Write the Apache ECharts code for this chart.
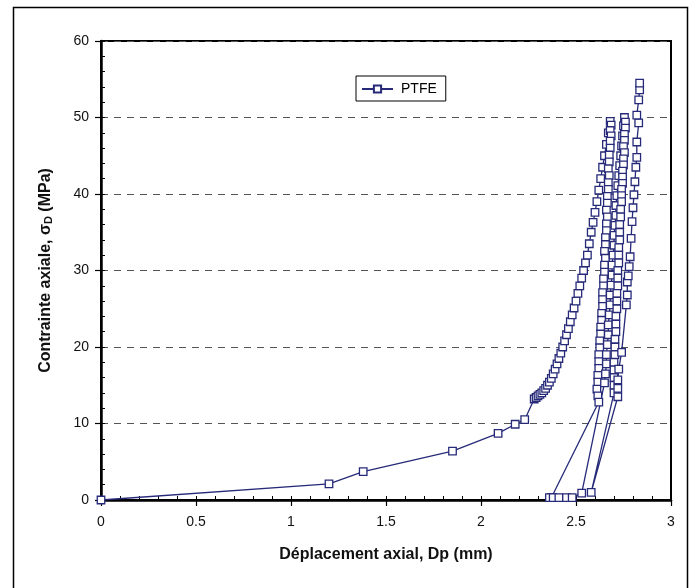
<!DOCTYPE html>
<html>
<head>
<meta charset="utf-8">
<script src="https://cdn.jsdelivr.net/npm/echarts@6/dist/echarts.min.js"></script>
<style>html,body{margin:0;padding:0;background:#fff}#c{width:696px;height:588px}</style>
</head>
<body>
<div id="c"></div>
<script>
// Axis tick labels
const xTicks = [0, 0.5, 1, 1.5, 2, 2.5, 3];
const yTicks = [0, 10, 20, 30, 40, 50, 60];
const seriesName = 'PTFE';

// Initial loading
const load1 = [[0,0],[1.20,2.1],[1.38,3.7],[1.85,6.4],[2.09,8.7],[2.18,9.9],[2.23,10.5],[2.28,13.2],[2.29,13.4],[2.30,13.6],[2.31,13.8],[2.32,14.0],[2.33,14.3],[2.34,14.6],[2.35,15.0],[2.36,15.4],[2.37,15.9],[2.38,16.5],[2.39,17.1],[2.40,17.8],[2.41,18.5],[2.42,19.2],[2.43,20.0],[2.44,20.8],[2.45,21.6],[2.46,22.4],[2.47,23.3],[2.48,24.2],[2.49,25.1],[2.50,26.0],[2.51,27.0],[2.52,28.0],[2.53,29.0],[2.54,30.0],[2.55,31.0],[2.56,32.0],[2.57,33.5],[2.58,35.0],[2.59,36.3],[2.60,37.6],[2.61,39.0],[2.62,40.5],[2.63,42.0],[2.64,43.5],[2.65,45.0],[2.66,46.5],[2.67,48.0],[2.68,49.5]];
// First unloading
const unload1 = [[2.685,49.0],[2.68,48.3],[2.685,47.6],[2.68,46.9],[2.68,46.0],[2.675,45.1],[2.675,44.2],[2.67,43.3],[2.675,42.4],[2.67,41.5],[2.67,40.6],[2.665,39.7],[2.665,38.8],[2.66,37.9],[2.665,37.0],[2.66,36.1],[2.66,35.2],[2.655,34.3],[2.655,33.4],[2.65,32.5],[2.655,31.6],[2.65,30.7],[2.65,29.8],[2.645,28.9],[2.645,28.0],[2.64,27.1],[2.64,26.2],[2.64,25.3],[2.635,24.4],[2.635,23.5],[2.63,22.6],[2.63,21.7],[2.625,20.8],[2.625,19.9],[2.62,19.0],[2.62,18.1],[2.62,17.2],[2.615,16.3],[2.615,15.4],[2.61,14.5],[2.615,13.6],[2.62,12.8],[2.37,0.3]];
// Near-zero stress
const rest1 = [[2.36,0.3],[2.38,0.3],[2.41,0.3],[2.45,0.3],[2.48,0.3],[2.53,0.9]];
// Second loading
const load2 = [[2.65,15.3],[2.655,16.5],[2.66,17.8],[2.66,19.0],[2.665,20.3],[2.67,21.6],[2.67,22.9],[2.675,24.2],[2.68,25.5],[2.68,26.8],[2.685,28.1],[2.69,29.4],[2.69,30.7],[2.695,32.0],[2.70,33.3],[2.70,34.6],[2.705,35.9],[2.71,37.2],[2.71,38.5],[2.715,39.8],[2.72,41.1],[2.725,42.4],[2.73,43.7],[2.735,45.0],[2.74,46.3],[2.745,47.6],[2.75,48.9],[2.755,50.0]];
// Second unloading
const unload2 = [[2.76,49.4],[2.76,48.6],[2.755,47.8],[2.755,47.0],[2.75,46.2],[2.755,45.4],[2.75,44.6],[2.75,43.8],[2.745,43.0],[2.745,42.2],[2.745,41.4],[2.74,40.6],[2.74,39.8],[2.74,39.0],[2.735,38.0],[2.735,37.0],[2.73,36.0],[2.73,35.0],[2.73,34.0],[2.725,33.0],[2.725,32.0],[2.725,31.0],[2.72,30.0],[2.72,29.0],[2.72,28.0],[2.715,27.0],[2.715,26.0],[2.715,25.0],[2.71,24.0],[2.71,23.0],[2.71,22.0],[2.705,21.0],[2.705,20.0],[2.705,19.0],[2.70,18.0],[2.70,17.0],[2.70,16.0],[2.70,15.0],[2.70,14.0],[2.58,1.0]];
// Final loading
const load3 = [[2.72,13.5],[2.72,14.6],[2.72,15.7],[2.725,17.1],[2.74,19.3],[2.765,25.5],[2.77,26.8],[2.77,28.5],[2.775,29.3],[2.78,30.5],[2.785,31.8],[2.79,34.2],[2.795,36.4],[2.80,38.2],[2.805,39.9],[2.81,41.6],[2.815,43.5],[2.82,44.8],[2.82,46.8],[2.83,49.3],[2.82,50.3],[2.83,52.3],[2.835,53.6],[2.835,54.5]];

const ptfe = [].concat(load1, unload1, rest1, load2, unload2, load3);
const navy = '#262a78';
const font = '"Liberation Sans", Arial, sans-serif';

const chart = echarts.init(document.getElementById('c'), null, {renderer: 'canvas'});
chart.setOption({
  animation: false,
  backgroundColor: '#fff',
  textStyle: {fontFamily: font},
  grid: {left: 101, top: 41, right: 25, bottom: 88, show: true, borderColor: '#000', borderWidth: 2, backgroundColor: 'transparent'},
  graphic: [{type: 'rect', shape: {x: 13.5, y: 7.5, width: 674, height: 600}, style: {fill: 'none', stroke: '#000', lineWidth: 1.5}, z: 100}],
  legend: {
    left: 356, top: 76, padding: [6, 9, 5, 5], borderColor: '#000', borderWidth: 1,
    itemWidth: 31, itemHeight: 9, itemGap: 6,
    textStyle: {fontSize: 14, color: '#000', fontFamily: font, padding: [0, 0, 0, 3]},
    data: [seriesName]
  },
  xAxis: [{
    type: 'value', min: xTicks[0], max: xTicks[xTicks.length - 1], interval: 0.5,
    axisLine: {show: true, onZero: false, lineStyle: {color: '#000', width: 2.5}},
    axisTick: {show: true, inside: false, length: 6, lineStyle: {color: '#000', width: 1.2}},
    axisLabel: {fontSize: 14, color: '#111', margin: 15, fontFamily: font, formatter: v => String(v)},
    splitLine: {show: false},
    name: 'Déplacement axial, Dp (mm)', nameLocation: 'middle', nameGap: 47,
    nameTextStyle: {fontSize: 16, fontWeight: 'bold', color: '#111', fontFamily: font}
  }, {
    type: 'value', min: 0, max: 3, interval: 0.1, position: 'bottom',
    axisLine: {show: false}, axisLabel: {show: false}, splitLine: {show: false},
    axisTick: {show: true, inside: true, length: 4, lineStyle: {color: '#000', width: 1}}
  }],
  yAxis: [{
    type: 'value', min: yTicks[0], max: yTicks[yTicks.length - 1], interval: 10,
    axisLine: {show: true, onZero: false, lineStyle: {color: '#000', width: 2.5}},
    axisTick: {show: true, inside: false, length: 6, lineStyle: {color: '#000', width: 1.2}},
    axisLabel: {fontSize: 14, color: '#111', margin: 12, fontFamily: font},
    splitLine: {show: true, lineStyle: {type: [7, 6], color: '#555', width: 1}},
    name: 'Contrainte axiale, σ{sub|D} (MPa)', nameLocation: 'middle', nameGap: 47, nameRotate: 90,
    nameTextStyle: {fontSize: 16, fontWeight: 'bold', color: '#111', fontFamily: font,
      rich: {sub: {fontSize: 11, fontWeight: 'bold', color: '#111', fontFamily: font, verticalAlign: 'bottom', padding: [6, 0, 0, 0]}}}
  }, {
    type: 'value', min: 0, max: 60, interval: 2, position: 'left',
    axisLine: {show: false}, axisLabel: {show: false}, splitLine: {show: false},
    axisTick: {show: true, inside: true, length: 4, lineStyle: {color: '#000', width: 1}}
  }],
  series: [{
    name: seriesName, type: 'line', xAxisIndex: 0, yAxisIndex: 0,
    data: ptfe, smooth: false,
    symbol: 'rect', symbolSize: 7.5, showAllSymbol: true,
    lineStyle: {color: navy, width: 1.3},
    itemStyle: {color: '#fff', borderColor: navy, borderWidth: 1.3},
    clip: false
  }]
});
</script>
</body>
</html>
